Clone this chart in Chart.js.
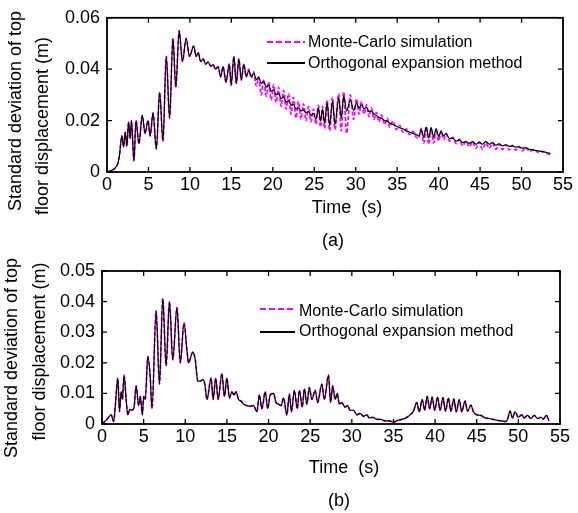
<!DOCTYPE html>
<html><head><meta charset="utf-8">
<script src="https://cdn.jsdelivr.net/npm/chart.js@4.4.0/dist/chart.umd.min.js"></script>
<style>
html,body{margin:0;padding:0;background:#fff;}
#wrap{position:relative;width:578px;height:513px;overflow:hidden;background:#fff;}
canvas{position:absolute;left:0;}
#ca{top:0;} #cb{top:250px;}
</style></head><body>
<div id="wrap"><canvas id="ca" width="578" height="250"></canvas><canvas id="cb" width="578" height="263"></canvas></div>
<script>
// ---------- chart (a) ----------
const tA = [0,1.25,1.5,1.8,2.0,2.2,2.4,2.6,2.8,2.95,
 3.25,3.5,3.85,4.25,4.6,4.95,5.2,5.55,5.95,6.35,
 6.75,7.15,7.55,7.95,8.3,8.7,9.1,9.55,9.95,10.45,
 10.75,11.0,11.3,11.6,11.9,12.2,12.5,12.8,13.1,13.4,
 13.7,14.0,14.35,14.75,14.98,15.3,15.6,15.9,16.2,16.5,
 16.8,17.1,17.4,17.7,18.0,18.3,18.6,18.9,19.2,19.5,
 19.8,20.1,20.4,20.7,21.0,21.3,21.6,21.9,22.2,22.5,
 22.8,23.1,23.4,23.7,24.0,24.3,24.6,24.9,25.2,25.5,
 25.75,26.0,26.25,26.55,26.85,27.2,27.5,27.95,28.25,28.55,
 28.9,29.35,29.75,30.1,30.4,30.7,31.0,31.3,31.6,31.9,
 32.2,32.5,32.8,33.1,33.5,33.8,34.1,34.5,34.9,35.3,
 35.7,36.1,36.5,36.9,37.3,37.6,37.9,38.2,38.5,38.8,
 39.1,39.4,39.7,40.0,40.3,40.6,40.9,41.3,41.7,42.1,
 42.5,42.9,43.3,43.7,44.1,44.5,44.9,45.3,45.7,46.1,
 46.5,46.9,47.3,47.7,48.1,48.5,48.9,49.3,49.7,50.1,
 50.5,51.0,51.5,52.0,52.5,53.0,53.5];
const oeA = [0,.0028,.0065,.0142,.0097,.0155,.0100,.0195,.0130,.0200,
 .0042,.0200,.0110,.0220,.0150,.0200,.0140,.0230,.0090,.0310,
 .0120,.0450,.0210,.0520,.0330,.0550,.0430,.0520,.0450,.0490,
 .0450,.0465,.0430,.0440,.0420,.0428,.0412,.0418,.0400,.0410,
 .0370,.0410,.0350,.0420,.0338,.0450,.0345,.0440,.0358,.0420,
 .0370,.0395,.0372,.0385,.0360,.0368,.0345,.0352,.0330,.0338,
 .0315,.0320,.0300,.0305,.0285,.0292,.0272,.0278,.0260,.0262,
 .0245,.0250,.0238,.0242,.0230,.0235,.0220,.0228,.0205,.0250,
 .0198,.0245,.0190,.0270,.0180,.0276,.0185,.0290,.0210,.0296,
 .0237,.0280,.0240,.0268,.0248,.0262,.0245,.0252,.0235,.0238,
 .0225,.0220,.0212,.0210,.0200,.0198,.0190,.0185,.0178,.0172,
 .0168,.0160,.0155,.0150,.0146,.0140,.0165,.0135,.0175,.0133,
 .0172,.0135,.0168,.0138,.0158,.0140,.0150,.0130,.0132,.0120,
 .0125,.0115,.0118,.0112,.0118,.0108,.0116,.0108,.0118,.0108,
 .0114,.0104,.0110,.0102,.0106,.0100,.0102,.0097,.0098,.0093,
 .0094,.0088,.0085,.0082,.0079,.0076,.0072];
const mcA = [0,.0028,.0065,.0140,.0098,.0155,.0100,.0195,.0130,.0200,
 .0045,.0200,.0110,.0220,.0150,.0200,.0140,.0230,.0090,.0310,
 .0120,.0450,.0210,.0520,.0330,.0550,.0430,.0520,.0450,.0490,
 .0450,.0465,.0430,.0440,.0420,.0428,.0412,.0418,.0400,.0410,
 .0370,.0410,.0350,.0420,.0338,.0450,.0345,.0440,.0358,.0420,
 .0370,.0400,.0365,.0390,.0335,.0370,.0300,.0360,.0295,.0350,
 .0280,.0340,.0270,.0330,.0255,.0318,.0245,.0305,.0225,.0290,
 .0210,.0275,.0205,.0265,.0200,.0255,.0195,.0245,.0185,.0260,
 .0175,.0255,.0168,.0280,.0160,.0290,.0165,.0305,.0160,.0312,
 .0150,.0300,.0205,.0285,.0225,.0275,.0225,.0262,.0215,.0250,
 .0205,.0232,.0195,.0222,.0185,.0210,.0175,.0198,.0165,.0182,
 .0155,.0168,.0145,.0158,.0135,.0132,.0170,.0112,.0176,.0108,
 .0172,.0112,.0168,.0120,.0160,.0126,.0148,.0120,.0135,.0110,
 .0128,.0102,.0120,.0098,.0118,.0092,.0116,.0088,.0114,.0092,
 .0112,.0088,.0108,.0087,.0106,.0086,.0104,.0085,.0100,.0082,
 .0095,.0080,.0088,.0076,.0080,.0072,.0068];
const xTicks = [0,5,10,15,20,25,30,35,40,45,50,55];
const xLabels = ['0','5','10','15','20','25','30','35','40','45','50','55'];
const yTicksA = [0,0.02,0.04,0.06];
const yLabelsA = ['0','0.02','0.04','0.06'];

// ---------- chart (b) ----------
const tB = [0,0.6,1.1,1.4,1.6,1.9,2.1,2.3,2.45,2.65,
 2.9,3.1,3.35,3.6,3.85,4.1,4.4,4.6,4.85,5.0,
 5.2,5.5,5.8,6.0,6.5,6.9,7.3,7.7,8.1,8.5,
 9.0,9.4,9.85,10.2,10.4,10.9,11.2,11.5,11.8,12.1,
 12.35,12.6,13.1,13.35,13.65,13.95,14.4,14.7,15.0,15.3,
 15.6,15.85,16.1,16.4,16.7,17.0,17.4,17.8,18.2,18.6,
 18.9,19.2,19.6,19.9,20.2,20.6,20.9,21.2,21.5,21.8,
 22.2,22.5,22.75,23.1,23.45,23.7,24.05,24.3,24.6,24.9,
 25.2,25.6,25.9,26.4,26.7,27.2,27.45,27.7,28.0,28.25,
 28.5,28.8,29.2,29.5,29.8,30.2,30.6,31.0,31.4,31.8,
 32.1,32.5,33.0,33.5,34.0,34.5,35.0,35.5,36.0,36.5,
 37.0,37.4,37.8,38.1,38.45,38.75,39.05,39.35,39.65,39.95,
 40.3,40.6,40.95,41.25,41.6,41.9,42.25,42.55,42.9,43.2,
 43.6,43.9,44.3,44.6,45.0,45.5,46.0,46.5,47.0,47.5,
 48.0,48.4,48.7,49.0,49.3,49.6,50.0,50.4,50.7,51.1,
 51.5,51.9,52.3,52.7,53.0,53.35,53.7];
const oeB = [0,.0015,.0030,.0008,.0060,.0150,.0040,.0105,.0080,.0160,
 .0080,.0030,.0048,.0045,.0055,.0125,.0060,.0090,.0030,.0090,
 .0080,.0220,.0150,.0050,.0370,.0130,.0410,.0190,.0400,.0210,
 .0380,.0200,.0330,.0240,.0200,.0235,.0210,.0140,.0140,.0145,
 .0130,.0080,.0150,.0080,.0150,.0080,.0165,.0090,.0150,.0085,
 .0105,.0095,.0105,.0080,.0075,.0065,.0060,.0058,.0060,.0040,
 .0095,.0050,.0105,.0050,.0095,.0100,.0070,.0065,.0060,.0085,
 .0030,.0098,.0040,.0110,.0050,.0110,.0055,.0115,.0065,.0120,
 .0080,.0110,.0070,.0130,.0080,.0160,.0070,.0125,.0080,.0100,
 .0065,.0070,.0055,.0060,.0045,.0045,.0030,.0035,.0025,.0030,
 .0020,.0022,.0015,.0015,.0010,.0010,.0006,.0012,.0015,.0020,
 .0030,.0042,.0070,.0040,.0080,.0045,.0090,.0050,.0088,.0045,
 .0088,.0045,.0086,.0042,.0085,.0042,.0082,.0040,.0080,.0040,
 .0075,.0042,.0062,.0040,.0030,.0028,.0020,.0018,.0015,.0012,
 .0010,.0008,.0015,.0042,.0020,.0040,.0022,.0030,.0020,.0028,
 .0018,.0028,.0018,.0022,.0016,.0028,.0010];
const mcB = [0,.0015,.0030,.0008,.0060,.0150,.0040,.0105,.0080,.0160,
 .0080,.0030,.0048,.0045,.0055,.0125,.0060,.0090,.0030,.0090,
 .0080,.0220,.0150,.0050,.0370,.0130,.0410,.0190,.0400,.0210,
 .0380,.0200,.0330,.0240,.0200,.0235,.0210,.0140,.0140,.0145,
 .0130,.0080,.0150,.0080,.0150,.0080,.0165,.0090,.0150,.0085,
 .0105,.0095,.0105,.0080,.0075,.0065,.0060,.0058,.0060,.0040,
 .0095,.0050,.0105,.0050,.0095,.0100,.0070,.0065,.0060,.0085,
 .0030,.0098,.0040,.0110,.0050,.0110,.0055,.0115,.0065,.0120,
 .0080,.0110,.0070,.0130,.0080,.0160,.0070,.0125,.0080,.0100,
 .0065,.0070,.0055,.0060,.0045,.0045,.0030,.0035,.0025,.0030,
 .0020,.0022,.0015,.0015,.0010,.0010,.0006,.0012,.0015,.0020,
 .0030,.0042,.0070,.0040,.0080,.0045,.0090,.0050,.0088,.0045,
 .0088,.0045,.0086,.0042,.0085,.0042,.0082,.0040,.0080,.0040,
 .0075,.0042,.0062,.0040,.0030,.0028,.0020,.0018,.0015,.0012,
 .0010,.0008,.0015,.0042,.0020,.0040,.0022,.0030,.0020,.0028,
 .0018,.0028,.0018,.0022,.0016,.0028,.0010];
const yTicksB = [0,0.01,0.02,0.03,0.04,0.05];
const yLabelsB = ['0','0.01','0.02','0.03','0.04','0.05'];

const seriesNames = ['Monte-Carlo simulation','Orthogonal expansion method'];
const yTitle = ['Standard deviation of top','floor displacement (m)'];
const xTitle = 'Time  (s)';

const FONT = '"Liberation Sans", Arial, Helvetica, sans-serif';
const MAG = '#ff00ff';

const decorCfg = {
  ca: { legend: [{x1:267,x2:305,y:42,ty:43,tx:308,c:MAG,dash:[6,3]},{x1:267,x2:305,y:63,ty:64,tx:308,c:'#000',dash:[]}],
        xt:{x:347,y:208.5}, yt:[{x:16,y:111},{x:43.5,y:126}], lab:{t:'(a)',x:333,y:241} },
  cb: { legend: [{x1:260,x2:295,y:59,ty:61.5,tx:299,c:MAG,dash:[6,3]},{x1:260,x2:295,y:82,ty:82,tx:299,c:'#000',dash:[]}],
        xt:{x:344,y:218.5}, yt:[{x:12,y:108},{x:40,y:101.5}], lab:{t:'(b)',x:339,y:251.5} }
};

const decor = {
  id: 'decor',
  afterDraw(chart) {
    const cfg = decorCfg[chart.canvas.id];
    const ctx = chart.ctx, a = chart.chartArea, xs = chart.scales.x, ys = chart.scales.y;
    ctx.save();
    ctx.strokeStyle = '#000'; ctx.lineWidth = 1.3; ctx.setLineDash([]);
    ctx.beginPath();
    xs.ticks.forEach(t => { const p = xs.getPixelForValue(t.value);
      ctx.moveTo(p, a.bottom); ctx.lineTo(p, a.bottom - 5); ctx.moveTo(p, a.top); ctx.lineTo(p, a.top + 5); });
    ys.ticks.forEach(t => { const p = ys.getPixelForValue(t.value);
      ctx.moveTo(a.left, p); ctx.lineTo(a.left + 5, p); ctx.moveTo(a.right, p); ctx.lineTo(a.right - 5, p); });
    ctx.stroke();
    ctx.lineWidth = 1.8;
    ctx.strokeRect(a.left, a.top, a.right - a.left, a.bottom - a.top);
    // legend
    ctx.font = '16px ' + FONT; ctx.fillStyle = '#000'; ctx.textAlign = 'left'; ctx.textBaseline = 'middle';
    cfg.legend.forEach((e, i) => {
      ctx.save(); ctx.strokeStyle = e.c; ctx.lineWidth = 2; ctx.setLineDash(e.dash);
      ctx.beginPath(); ctx.moveTo(e.x1, e.y); ctx.lineTo(e.x2, e.y); ctx.stroke(); ctx.restore();
      ctx.fillText(seriesNames[i], e.tx, e.ty);
    });
    // axis titles
    ctx.font = '18px ' + FONT; ctx.textAlign = 'center'; ctx.textBaseline = 'middle';
    ctx.fillText(xTitle, cfg.xt.x, cfg.xt.y);
    cfg.yt.forEach((p, i) => { ctx.save(); ctx.translate(p.x, p.y); ctx.rotate(-Math.PI / 2); ctx.fillText(yTitle[i], 0, 0); ctx.restore(); });
    ctx.fillText(cfg.lab.t, cfg.lab.x, cfg.lab.y);
    ctx.restore();
  }
};

function makeChart(id, t, oe, mc, yTicks, yLabels, yMax, yWidth, pad) {
  return new Chart(document.getElementById(id), {
    type: 'line',
    data: { datasets: [
      { label: seriesNames[1], data: t.map((x, i) => ({x, y: oe[i]})), borderColor: '#000', borderWidth: 1.2, pointRadius: 0, cubicInterpolationMode: 'monotone', fill: false },
      { label: seriesNames[0], data: t.map((x, i) => ({x, y: mc[i]})), borderColor: MAG, borderWidth: 1.7, borderDash: [4, 2], pointRadius: 0, cubicInterpolationMode: 'monotone', fill: false }
    ]},
    options: {
      responsive: false, animation: false, events: [],
      layout: { padding: pad },
      plugins: { legend: { display: false }, tooltip: { enabled: false } },
      scales: {
        x: { type: 'linear', min: 0, max: 55,
             afterBuildTicks: s => { s.ticks = xTicks.map(v => ({value: v})); },
             afterFit: s => { s.height = 30; },
             grid: { display: false, drawTicks: false, tickLength: 0 }, border: { display: false },
             ticks: { autoSkip: false, maxRotation: 0, padding: 2, color: '#000', font: { family: FONT, size: 18 },
                      callback: (v, i) => xLabels[i] } },
        y: { type: 'linear', min: 0, max: yMax,
             afterBuildTicks: s => { s.ticks = yTicks.map(v => ({value: v})); },
             afterFit: s => { s.width = yWidth; },
             grid: { display: false, drawTicks: false, tickLength: 0 }, border: { display: false },
             ticks: { autoSkip: false, padding: 7, color: '#000', font: { family: FONT, size: 18 },
                      callback: (v, i) => yLabels[i] } }
      }
    },
    plugins: [decor]
  });
}

makeChart('ca', tA, oeA, mcA, yTicksA, yLabelsA, 0.06, 107, {left: 0, top: 17, right: 15, bottom: 48});
makeChart('cb', tB, oeB, mcB, yTicksB, yLabelsB, 0.05, 102, {left: 0, top: 21, right: 18, bottom: 59});
</script></body></html>
